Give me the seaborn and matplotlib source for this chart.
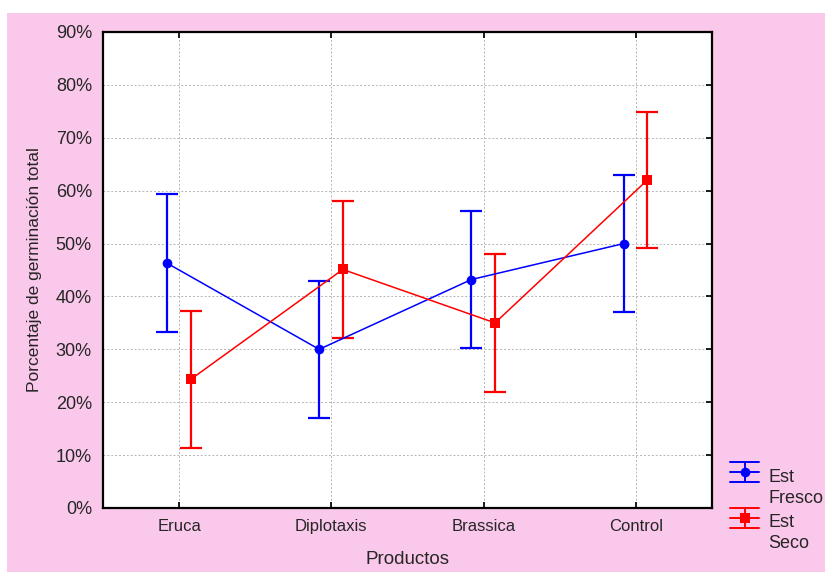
import matplotlib
matplotlib.use("Agg")
import matplotlib.pyplot as plt
import seaborn as sns
import pandas as pd
import numpy as np
from matplotlib.patches import Rectangle
from matplotlib.lines import Line2D
from matplotlib.legend_handler import HandlerBase
from matplotlib.ticker import PercentFormatter

# ---- data ----
productos = ["Eruca", "Diplotaxis", "Brassica", "Control"]
series = ["Est\nFresco", "Est\nSeco"]
fresco_mean = [46.3, 30.0, 43.2, 50.0]
fresco_err = [13.0, 13.0, 13.0, 13.0]
seco_mean = [24.3, 45.1, 35.0, 62.0]
seco_err = [13.0, 13.0, 13.0, 12.9]
yticks = [0, 10, 20, 30, 40, 50, 60, 70, 80, 90]

colors = {series[0]: "#0000FF", series[1]: "#FF0000"}
markers = {series[0]: "o", series[1]: "s"}
offsets = {series[0]: -0.08, series[1]: 0.075}

df = pd.DataFrame({
    "Productos": productos * 2,
    "Serie": [series[0]] * 4 + [series[1]] * 4,
    "valor": fresco_mean + seco_mean,
    "err": fresco_err + seco_err,
})

sns.set_theme(style="white")
plt.rcParams["font.family"] = ["Liberation Sans", "DejaVu Sans"]


class ErrHandler(HandlerBase):
    def create_artists(self, legend, orig_handle, xdescent, ydescent, width, height,
                       fontsize, trans):
        c = orig_handle.get_color()
        m = orig_handle.get_marker()
        # align the glyph with the first ("Est") line of the two-line label
        yc = height / 2 + fontsize * 0.85
        dy = fontsize * 0.55
        x0, x1 = -xdescent, -xdescent + width
        xm = (x0 + x1) / 2
        arts = [
            Line2D([x0, x1], [yc, yc], color=c, lw=1.4),
            Line2D([x0, x1], [yc + dy, yc + dy], color=c, lw=1.4),
            Line2D([x0, x1], [yc - dy, yc - dy], color=c, lw=1.4),
            Line2D([xm, xm], [yc - dy, yc + dy], color=c, lw=1.4),
            Line2D([xm], [yc], color=c, marker=m, markersize=7, markeredgewidth=0, lw=0),
        ]
        for a in arts:
            a.set_transform(trans)
        return arts


fig = plt.figure(figsize=(8.25, 5.72), dpi=100)
fig.patch.set_facecolor("white")
fig.patches.append(Rectangle((7 / 825, 0), 1, 1 - 13 / 572, transform=fig.transFigure,
                             facecolor="#FAC8EA", edgecolor="none", zorder=-10))
ax = fig.add_axes([103 / 825, 1 - 508 / 572, 609 / 825, 476 / 572])
ax.set_facecolor("white")

xpos = {p: i for i, p in enumerate(productos)}
handles = []
for s in series:
    sub = df[df["Serie"] == s]
    x = np.array([xpos[p] for p in sub["Productos"]]) + offsets[s]
    sns.lineplot(x=x, y=sub["valor"].values, ax=ax, color=colors[s], lw=1.1,
                 marker=markers[s], markersize=7, markeredgewidth=0,
                 sort=False, legend=False, zorder=3)
    ax.errorbar(x, sub["valor"].values, yerr=sub["err"].values, fmt="none",
                ecolor=colors[s], elinewidth=1.6, capsize=8, capthick=1.6, zorder=2)
    handles.append(Line2D([], [], color=colors[s], marker=markers[s]))

ax.set_xlim(-0.5, 3.5)
ax.set_ylim(0, 90)
ax.set_xticks(range(len(productos)))
ax.set_xticklabels(productos, fontsize=12)
ax.set_yticks(yticks)
ax.yaxis.set_major_formatter(PercentFormatter(decimals=0))
ax.tick_params(axis="y", labelsize=13, length=0, pad=8)
ax.tick_params(axis="x", pad=8)
ax.tick_params(axis="x", which="major", bottom=True, top=True, direction="in", length=4, color="black")
ax.tick_params(axis="y", which="major", right=True, direction="in", length=4, color="black")
ax.grid(True, color="#b4b4b4", linestyle=(0, (2, 2)), linewidth=0.7)
for side in ["left", "bottom", "top", "right"]:
    ax.spines[side].set_color("black")
    ax.spines[side].set_linewidth(1.6)

ax.set_xlabel("Productos", fontsize=13.5, labelpad=12)
ax.set_ylabel("Porcentaje de germinación total", fontsize=12.5, labelpad=10)

leg = fig.legend(handles=handles, labels=series, loc="upper left",
                 bbox_to_anchor=(717 / 825, 1 - 456 / 572), frameon=False,
                 fontsize=13, handlelength=1.65, handletextpad=0.5,
                 labelspacing=0.42, borderpad=0.2,
                 handler_map={Line2D: ErrHandler()})
for t in leg.get_texts():
    t.set_linespacing(1.3)

fig.savefig("out.png", dpi=100, facecolor=fig.get_facecolor())
